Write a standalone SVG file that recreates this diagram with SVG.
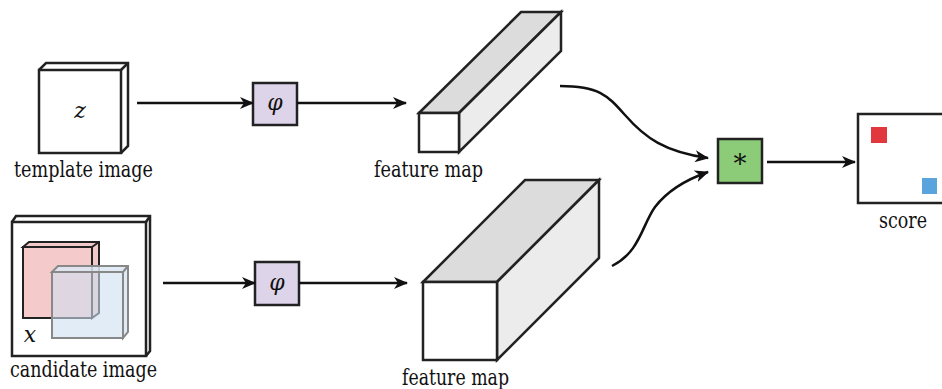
<svg xmlns="http://www.w3.org/2000/svg" width="942" height="389" viewBox="0 0 942 389">
<defs>
<style>
.ln{fill:none;stroke:#111;stroke-width:2.5;stroke-linejoin:miter}
.box{stroke:#222;stroke-width:2.5;stroke-linejoin:miter}
.top{fill:#dcdcdc}
.side{fill:#ececec}
.t{font-family:'DejaVu Serif',serif;fill:#111}
</style>
<marker id="ah" viewBox="0 0 14 12" refX="13" refY="6" markerWidth="14" markerHeight="12" markerUnits="userSpaceOnUse" orient="auto">
<path d="M0,0 L14,6 L0,12 L4,6 Z" fill="#111"/>
</marker>
</defs>
<rect width="942" height="389" fill="#fff"/>

<g id="template">
<path class="box" d="M39,70 L46,63 L128,63 L128,146 L121,153" fill="#fff"/>
<path class="box" d="M121,70 L128,63" fill="none"/>
<rect class="box" x="39" y="70" width="82" height="83" fill="#fff"/>
<text class="t" x="80" y="118" text-anchor="middle" font-size="22" font-style="italic">z</text>
<text class="t" x="14" y="177" font-size="22" textLength="139" lengthAdjust="spacingAndGlyphs">template image</text>
</g>

<g id="candidate">
<path class="box" d="M12,222 L16,216 L150,216 L150,351 L146,356" fill="#fff"/>
<path class="box" d="M146,222 L150,216" fill="none"/>
<rect class="box" x="12" y="222" width="134" height="134" fill="#fff"/>
<path d="M23,247 L29,242 L99,242 L99,313 L92,318 L92,247 Z" fill="#f2c9c9" stroke="#222" stroke-width="2"/>
<path d="M92,247 L99,242" stroke="#222" stroke-width="2"/>
<rect x="23" y="247" width="69" height="71" fill="#f4caca" stroke="#222" stroke-width="2"/>
<path d="M52,272 L58,266 L128,266 L128,332 L123,338 L123,272 Z" fill="#dce8f3" fill-opacity="0.85" stroke="#888" stroke-width="2"/>
<path d="M123,272 L128,266" stroke="#888" stroke-width="2"/>
<rect x="52" y="272" width="71" height="66" fill="#cfe0f0" fill-opacity="0.6" stroke="#888" stroke-width="2"/>
<text class="t" x="30" y="342" text-anchor="middle" font-size="22" font-style="italic">x</text>
<text class="t" x="10" y="377" font-size="22" textLength="147" lengthAdjust="spacingAndGlyphs">candidate image</text>
</g>

<g id="phi1">
<rect class="box" x="253" y="83" width="44" height="42" fill="#ddd4e9"/>
<text class="t" x="275" y="110" text-anchor="middle" font-size="22" font-style="italic">φ</text>
</g>

<g id="phi2">
<rect class="box" x="255" y="262" width="44" height="43" fill="#ddd4e9"/>
<text class="t" x="277" y="290" text-anchor="middle" font-size="22" font-style="italic">φ</text>
</g>

<g id="feature1">
<path class="box top" d="M419,113 L521,12 L561,12 L459,113 Z"/>
<path class="box side" d="M459,113 L561,12 L561,51 L459,152 Z"/>
<rect class="box" x="419" y="113" width="40" height="39" fill="#fff"/>
<text class="t" x="374" y="177" font-size="22" textLength="109" lengthAdjust="spacingAndGlyphs">feature map</text>
</g>

<g id="feature2">
<path class="box top" d="M423,282 L525,180 L599,180 L497,282 Z"/>
<path class="box side" d="M497,282 L599,180 L599,258 L497,360 Z"/>
<rect class="box" x="423" y="282" width="74" height="78" fill="#fff"/>
<text class="t" x="402" y="385" font-size="22" textLength="107" lengthAdjust="spacingAndGlyphs">feature map</text>
</g>

<g id="corr">
<rect class="box" x="718" y="139" width="44" height="44" fill="#8ccc78"/>
<text class="t" x="740" y="173" text-anchor="middle" font-size="26">*</text>
</g>

<g id="score">
<rect class="box" x="858" y="114" width="96" height="89" fill="#fff"/>
<rect x="871" y="127" width="16" height="16" fill="#e0383c"/>
<rect x="922" y="178" width="15" height="16" fill="#5aa4de"/>
<text class="t" x="879" y="228" font-size="22" textLength="48" lengthAdjust="spacingAndGlyphs">score</text>
</g>

<g id="connectors">
<path class="ln" d="M137,103 L253,103" marker-end="url(#ah)"/>
<path class="ln" d="M297,103 L406,103" marker-end="url(#ah)"/>
<path class="ln" d="M163,283 L255,283" marker-end="url(#ah)"/>
<path class="ln" d="M299,283 L407,283" marker-end="url(#ah)"/>
<path class="ln" d="M560,86 C600,86 608,96 625,115 C645,138 665,152 708,158" marker-end="url(#ah)"/>
<path class="ln" d="M612,266 C640,252 642,225 655,207 C668,190 685,180 708,172" marker-end="url(#ah)"/>
<path class="ln" d="M767,162 L855,162" marker-end="url(#ah)"/>
</g>
</svg>
